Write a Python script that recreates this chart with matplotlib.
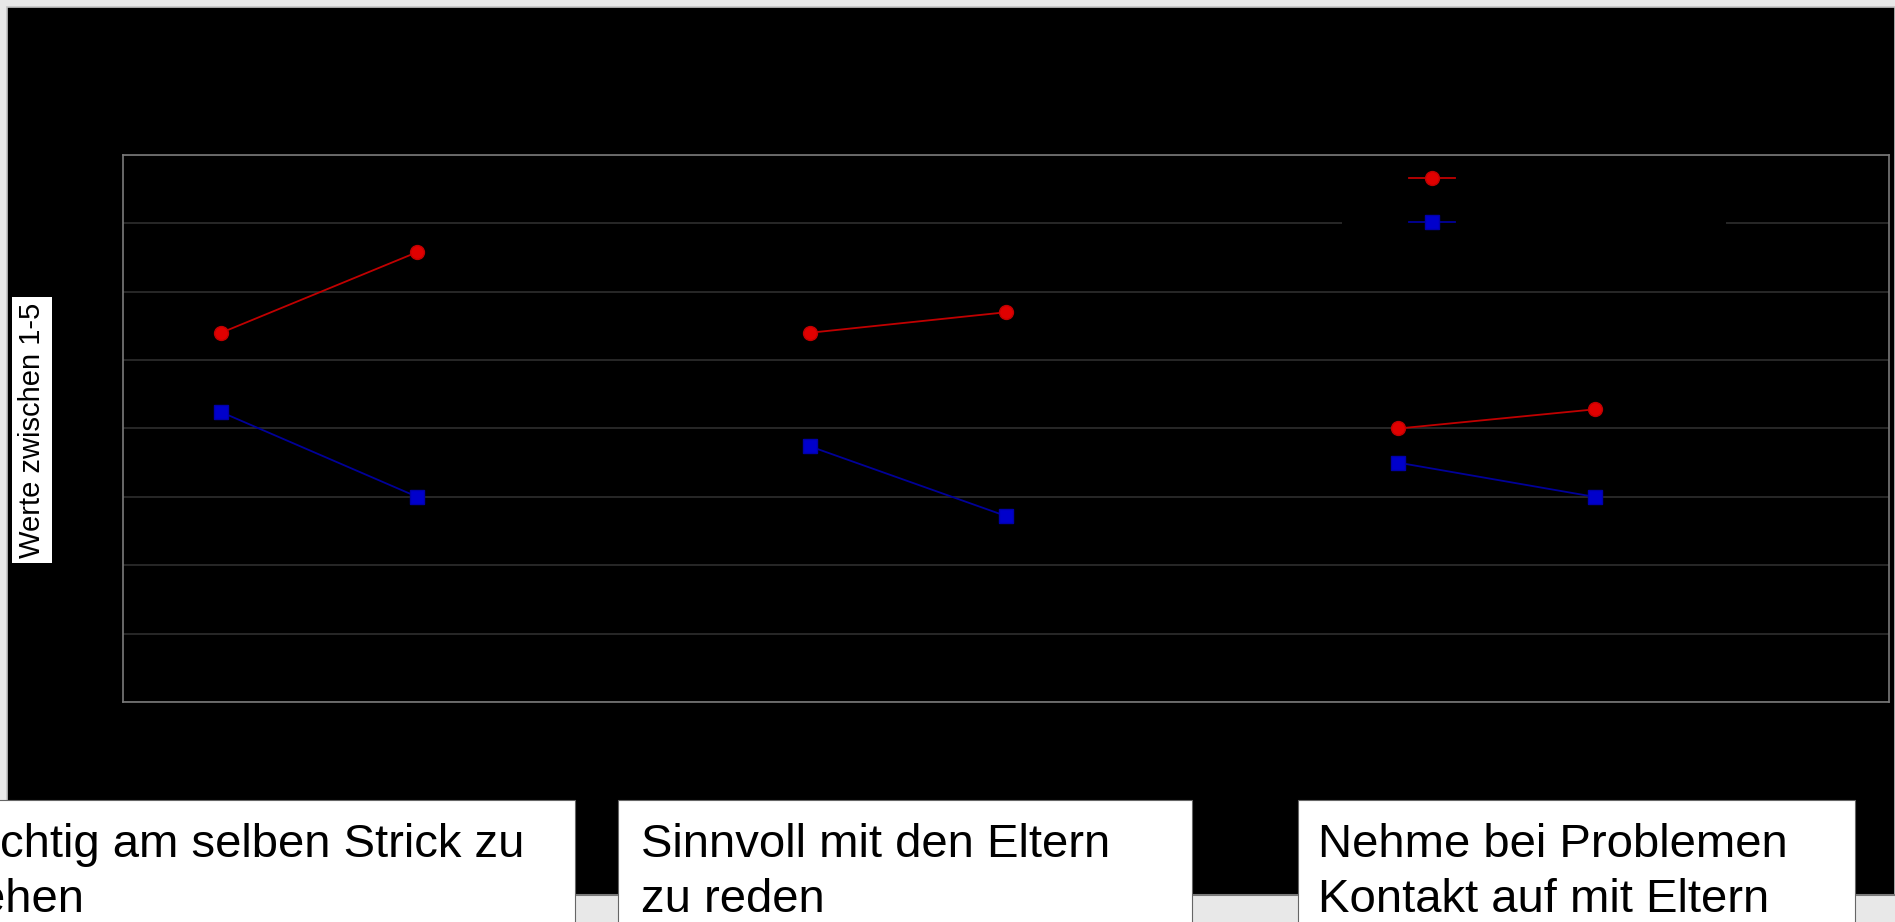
import numpy as np
import matplotlib.pyplot as plt
from matplotlib.patches import Rectangle
from matplotlib.lines import Line2D

# 9 slots on the x axis, every third one is left empty
categories = ['A1', 'A2', '', 'B1', 'B2', '', 'C1', 'C2', '']
red_vals = [3.70, 4.29, np.nan, 3.70, 3.85, np.nan, 3.00, 3.14, np.nan]
blue_vals = [3.12, 2.50, np.nan, 2.87, 2.36, np.nan, 2.75, 2.50, np.nan]
series_names = ['Lehrpersonen', 'Eltern']
y_ticks = [1, 1.5, 2, 2.5, 3, 3.5, 4, 4.5, 5]
y_label = 'Werte zwischen 1-5'
box_texts = [('Wichtig am selben Strick zu', 'ziehen'),
             ('Sinnvoll mit den Eltern', 'zu reden'),
             ('Nehme bei Problemen', 'Kontakt auf mit Eltern')]

W, H = 1895, 922
fonts = ['Liberation Sans', 'DejaVu Sans']


def fx(px):
    return px / W


def fy(py):
    return 1 - py / H


fig = plt.figure(figsize=(W / 100, H / 100), dpi=100, facecolor='#e8e8e8')

# black slide area
fig.patches.append(Rectangle((fx(7), fy(895)), fx(1895) - fx(7), fy(7) - fy(895),
                             transform=fig.transFigure, facecolor='black',
                             edgecolor='#c4c4c4', lw=1.2, zorder=-2))
fig.lines.append(Line2D([0, 1], [fy(895), fy(895)], transform=fig.transFigure,
                        color='#7a7a7a', lw=1.5, zorder=-1))

ax = fig.add_axes([fx(123), fy(702), fx(1889) - fx(123), fy(155) - fy(702)])
ax.set_zorder(1)
ax.set_facecolor('black')
x = np.arange(len(categories))
ax.plot(x, red_vals, color='#c00000', lw=1.3, marker='o', markersize=10,
        markerfacecolor='#e00000', markeredgecolor='#c00000', label=series_names[0])
ax.plot(x, blue_vals, color='#000099', lw=1.3, marker='s', markersize=10.5,
        markerfacecolor='#0000cc', markeredgecolor='#0000aa', label=series_names[1])

ax.set_xlim(-0.5, len(categories) - 0.5)
ax.set_ylim(1, 5)
ax.set_yticks(y_ticks)
ax.set_xticks(x)
ax.set_xticklabels(categories)
ax.tick_params(colors='black', length=0, labelcolor='black')
ax.grid(axis='y', color='#2b2b2b', lw=1.3)
ax.set_axisbelow(True)
for s in ax.spines.values():
    s.set_color('#7a7a7a')
    s.set_linewidth(1.2)

# legend sits on a black patch that hides the grid line
ax.add_patch(Rectangle((fx(1342), fy(242)), fx(1726) - fx(1342), fy(160) - fy(242),
                       transform=fig.transFigure, facecolor='black', edgecolor='none',
                       zorder=3, clip_on=False))
leg = ax.legend(loc='upper left', bbox_to_anchor=(fx(1409), fy(170)),
                bbox_transform=fig.transFigure, frameon=False, fontsize=14,
                handlelength=2.37, borderpad=0, borderaxespad=0, labelspacing=1.28,
                labelcolor='black')
leg.set_zorder(4)

# y label in a white box
fig.text(fx(32), fy(430), y_label, rotation=90, ha='center', va='center',
         fontsize=21, family=fonts, color='black', zorder=5,
         bbox=dict(facecolor='white', edgecolor='none', pad=4))

# category text boxes at the bottom
boxes = [(-75, 575), (618, 1192), (1298, 1855)]
pads = [20, 23, 20]
for (x0, x1), pad, (l1, l2) in zip(boxes, pads, box_texts):
    fig.patches.append(Rectangle((fx(x0), fy(930)), fx(x1) - fx(x0), fy(800) - fy(930),
                                 transform=fig.transFigure, facecolor='white',
                                 edgecolor='#666666', lw=0.8, zorder=5))
    fig.text(fx(x0 + pad), fy(857), l1, ha='left', va='baseline', fontsize=34,
             family=fonts, color='black', zorder=6)
    fig.text(fx(x0 + pad), fy(912), l2, ha='left', va='baseline', fontsize=34,
             family=fonts, color='black', zorder=6)

fig.savefig('out.png', dpi=100, facecolor=fig.get_facecolor())
